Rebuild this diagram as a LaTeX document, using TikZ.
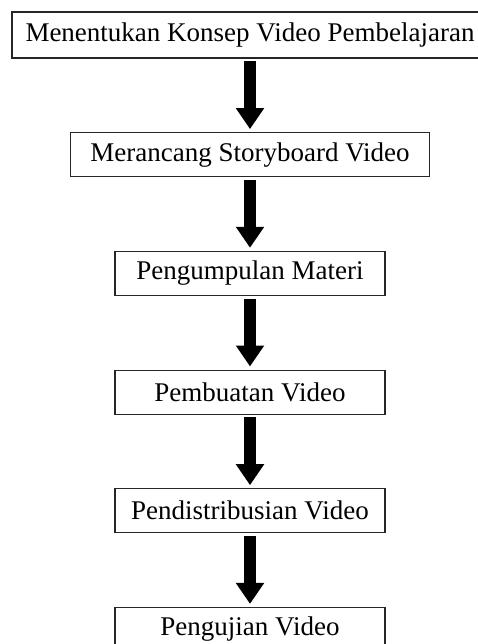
\documentclass[tikz,border=0pt]{standalone}
\usepackage{fontspec}
\setmainfont{Liberation Serif}
\usetikzlibrary{positioning}
\usetikzlibrary{arrows.meta}
\tikzset{
	stagenode/.style = {
		rectangle,
		align=center,
		inner sep=0pt,
		draw=black!85,
		line width=1.2pt,
		minimum height=44pt,
		font=\fontsize{27}{32}\selectfont
	},
	stage_wide/.style = {
		stagenode,
		minimum width=476pt,
		minimum height=46pt
	},
	stage_mid/.style = {
		stagenode,
		minimum width=359pt
	},
	stage_std/.style = {
		stagenode,
		minimum width=270pt
	},
	flowarrow/.style = {
		black,
		line width=12.5pt,
		-{Triangle[width=27pt,length=21pt]},
		shorten <=2.5pt,
		shorten >=3pt
	}
}

\begin{document}
\begin{tikzpicture}[node distance=73.5pt]
\useasboundingbox (0,0) rectangle (478pt,-644pt);
\node [stage_wide] (konsep) at (250pt,-35pt) {Menentukan Konsep Video Pembelajaran};
\node [stage_mid, below=of konsep] (storyboard) {Merancang Storyboard Video};
\node [stage_std, below=of storyboard] (materi) {Pengumpulan Materi};
\node [stage_std, below=of materi] (pembuatan) {Pembuatan Video};
\node [stage_std, below=of pembuatan] (distribusi) {Pendistribusian Video};
\node [stage_std, below=of distribusi] (pengujian) {Pengujian Video};
% panah antar tahap
\draw [flowarrow] (konsep) -- (storyboard);
\draw [flowarrow] (storyboard) -- (materi);
\draw [flowarrow] (materi) -- (pembuatan);
\draw [flowarrow] (pembuatan) -- (distribusi);
\draw [flowarrow] (distribusi) -- (pengujian);
\end{tikzpicture}
\end{document}
